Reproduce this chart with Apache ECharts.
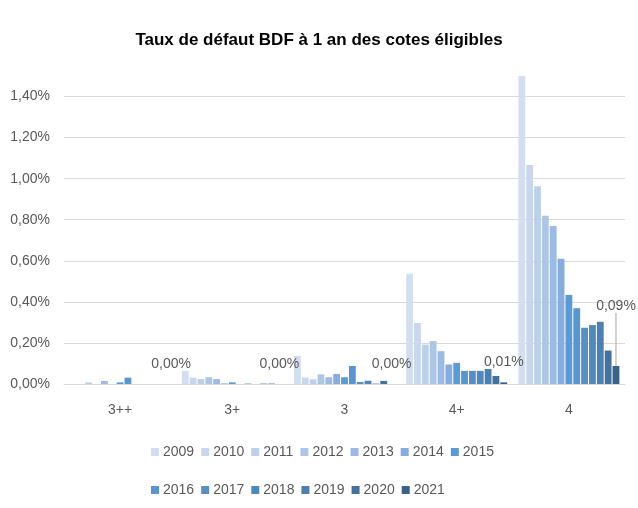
<!DOCTYPE html>
<html>
<head>
<meta charset="utf-8">
<script src="https://cdn.jsdelivr.net/npm/echarts@6/dist/echarts.min.js"></script>
<style>html,body{margin:0;padding:0;background:#fff}#c{width:638px;height:508px}</style>
</head>
<body>
<div id="c"></div>
<script>
const categories = ['3++', '3+', '3', '4+', '4'];
const years = ['2009','2010','2011','2012','2013','2014','2015','2016','2017','2018','2019','2020','2021'];
const yTicks = [0, 0.2, 0.4, 0.6, 0.8, 1.0, 1.2, 1.4];
const v2009 = [0,     0.064, 0.137, 0.537, 1.51];
const v2010 = [0,     0.031, 0.031, 0.297, 1.067];
const v2011 = [0.008, 0.024, 0.023, 0.192, 0.963];
const v2012 = [0,     0.033, 0.047, 0.209, 0.819];
const v2013 = [0.015, 0.024, 0.033, 0.160, 0.770];
const v2014 = [0,     0.003, 0.049, 0.095, 0.610];
const v2015 = [0.008, 0.008, 0.033, 0.103, 0.434];
const v2016 = [0.031, 0,     0.088, 0.064, 0.369];
const v2017 = [0,     0.002, 0.010, 0.064, 0.274];
const v2018 = [0,     0,     0.016, 0.064, 0.287];
const v2019 = [0,     0.002, 0.002, 0.073, 0.303];
const v2020 = [0,     0.002, 0.015, 0.039, 0.163];
const v2021 = [0,     0,     0,     0.008, 0.088];
const values = [v2009,v2010,v2011,v2012,v2013,v2014,v2015,v2016,v2017,v2018,v2019,v2020,v2021];
const colors = ['#D3DEF0','#C8D7EE','#BDD0EB','#ADC6E8','#9CBBE4','#86ADDE','#5B9BD5','#5996CF','#558FC6','#5088BC','#4B80B1','#44729F','#3A618A'];

const fmt = v => Number(v).toFixed(2).replace('.', ',') + '%';
const FONT = 'Liberation Sans';

const series = years.map((y, i) => {
  const s = {
    name: y,
    type: 'bar',
    barGap: '15%',
    barCategoryGap: '10%',
    itemStyle: { color: colors[i] },
    data: values[i].slice()
  };
  if (i === years.length - 1) {
    s.label = {
      show: true,
      position: 'top',
      distance: 13,
      color: '#595959',
      fontFamily: FONT,
      fontSize: 14,
      formatter: p => fmt(p.value)
    };
    s.labelLine = { show: false, lineStyle: { color: '#a6a6a6', width: 1 } };
    s.data = values[i].map((v, j) => j === 4 ? { value: v, labelLine: { show: true } } : v);
    s.labelLayout = function (p) {
      if (p.dataIndex === 4) return { dy: -40 };
      if (p.dataIndex === 0) return { dx: 4 };
      return {};
    };
  }
  return s;
});

const legendCommon = {
  left: 151,
  padding: 0,
  itemWidth: 8, itemHeight: 8, itemGap: 7,
  icon: 'rect',
  textStyle: { fontFamily: FONT, fontSize: 14, color: '#595959', padding: [0,0,0,-1] }
};

const chart = echarts.init(document.getElementById('c'));
chart.setOption({
  animation: false,
  title: {
    text: 'Taux de défaut BDF à 1 an des cotes éligibles',
    left: 'center',
    top: 27,
    textStyle: { fontFamily: FONT, fontWeight: 'bold', fontSize: 17, color: '#000' }
  },
  grid: { left: 64, right: 13, top: 76, bottom: 124 },
  legend: [
    Object.assign({ data: years.slice(0, 7), top: 445 }, legendCommon),
    Object.assign({ data: years.slice(7), top: 483 }, legendCommon)
  ],
  xAxis: {
    type: 'category',
    data: categories,
    axisLine: { lineStyle: { color: '#d9d9d9' } },
    axisTick: { show: false },
    axisLabel: { fontFamily: FONT, fontSize: 14, color: '#595959', margin: 19 }
  },
  yAxis: {
    type: 'value',
    min: yTicks[0],
    max: 1.5,
    interval: yTicks[1] - yTicks[0],
    axisLine: { show: false },
    axisTick: { show: false },
    splitLine: { lineStyle: { color: '#d9d9d9' }, showMaxLine: false },
    axisLabel: { fontFamily: FONT, fontSize: 14, color: '#595959', margin: 14, formatter: fmt, showMaxLabel: false }
  },
  series: series
});
</script>
</body>
</html>
